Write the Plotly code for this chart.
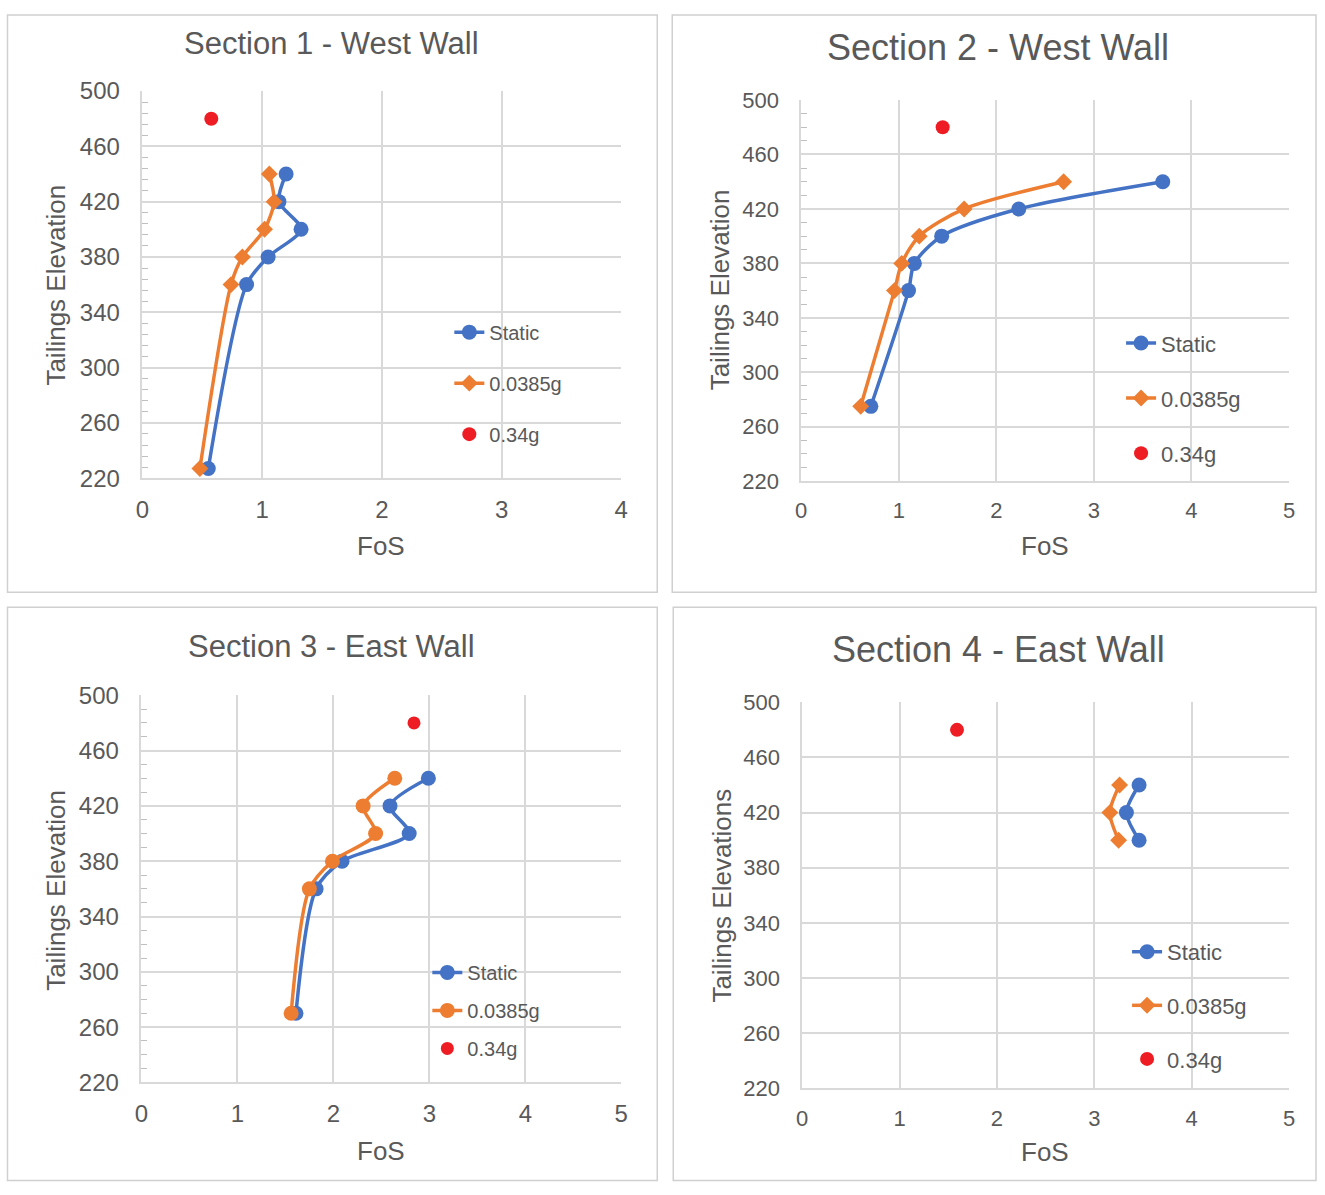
import plotly.graph_objects as go

W, H = 1325, 1195

# ---------------- data ----------------
s1_elev = [227, 360, 380, 400, 420, 440]
s1_static = [0.55, 0.87, 1.05, 1.325, 1.14, 1.20]
s1_dyn = [0.48, 0.74, 0.835, 1.02, 1.10, 1.06]
s1_eq_elev = [480]
s1_eq = [0.575]

s2_elev = [275, 360, 380, 400, 420, 440]
s2_static = [0.714, 1.10, 1.16, 1.44, 2.23, 3.706]
s2_dyn = [0.61, 0.956, 1.03, 1.21, 1.67, 2.69]
s2_eq_elev = [480]
s2_eq = [1.45]

s3_elev = [270, 360, 380, 400, 420, 440]
s3_static = [1.61, 1.82, 2.09, 2.79, 2.59, 2.99]
s3_dyn = [1.56, 1.75, 1.99, 2.44, 2.31, 2.64]
s3_eq_elev = [480]
s3_eq = [2.84]

s4_elev = [400, 420, 440]
s4_static = [3.46, 3.33, 3.46]
s4_dyn = [3.25, 3.16, 3.26]
s4_eq_elev = [480]
s4_eq = [1.59]

series_names = ["Static", "0.0385g", "0.34g"]
titles = ["Section 1 - West Wall", "Section 2 - West Wall",
          "Section 3 - East Wall", "Section 4 - East Wall"]
ytitles = ["Tailings Elevation", "Tailings Elevation",
           "Tailings Elevation", "Tailings Elevations"]
xtitle = "FoS"

BLUE = "#4472C4"
ORANGE = "#ED7D31"
RED = "#EE1D23"
GRID = "#D9D9D9"
TXT = "#595959"
FONT = "Liberation Sans, Arial, sans-serif"

# mapping from target picture pixels to paper fractions
RX0, RW = 6.5, 1311.5
RY0, RH = 14.0, 1167.5

def px(x):
    return min(max((x - RX0) / RW, 0.0), 1.0)

def py(y):
    return min(max(1 - (y - RY0) / RH, 0.0), 1.0)

# panel layout (pixel geometry in target picture)
panels = [
    dict(data=(s1_elev, s1_static, s1_dyn, s1_eq_elev, s1_eq), dyn_symbol="diamond",
         plot=(142, 621, 91, 478), xmax=4, box=(7, 657, 15, 592),
         title_xy=(331, 43), tfs=31, tickfs=24, afs=26, minor=8,
         ytitle_xy=(56, 285), xtitle_xy=(381, 546),
         legend_xy=(449, 383), lfs=20, lgap=22, msize=15, dsize=13, esize=14),
    dict(data=(s2_elev, s2_static, s2_dyn, s2_eq_elev, s2_eq), dyn_symbol="diamond",
         plot=(801, 1289, 100, 481), xmax=5, box=(672, 1316, 15, 592),
         title_xy=(998, 47), tfs=36, tickfs=22, afs=26, minor=10,
         ytitle_xy=(720, 290), xtitle_xy=(1045, 546),
         legend_xy=(1121, 398), lfs=22, lgap=23.5, msize=15, dsize=13, esize=14),
    dict(data=(s3_elev, s3_static, s3_dyn, s3_eq_elev, s3_eq), dyn_symbol="circle",
         plot=(141, 621, 695, 1082), xmax=5, box=(7, 657, 607, 1180),
         title_xy=(331, 646), tfs=31, tickfs=24, afs=26, minor=10,
         ytitle_xy=(56, 890), xtitle_xy=(381, 1151),
         legend_xy=(427, 1010), lfs=20, lgap=9, msize=15, dsize=15, esize=13),
    dict(data=(s4_elev, s4_static, s4_dyn, s4_eq_elev, s4_eq), dyn_symbol="diamond",
         plot=(802, 1289, 702, 1088), xmax=5, box=(673, 1316, 607, 1180),
         title_xy=(998, 649), tfs=36, tickfs=22, afs=26, minor=None,
         ytitle_xy=(722, 895), xtitle_xy=(1045, 1152),
         legend_xy=(1127, 1005), lfs=22, lgap=22, msize=15, dsize=13, esize=14),
]

fig = go.Figure()
shapes = []
annotations = []
layout_axes = {}

for i, p in enumerate(panels):
    n = i + 1
    xa = "x" if n == 1 else f"x{n}"
    ya = "y" if n == 1 else f"y{n}"
    xkey = "xaxis" if n == 1 else f"xaxis{n}"
    ykey = "yaxis" if n == 1 else f"yaxis{n}"
    lkey = "legend" if n == 1 else f"legend{n}"
    elev, stat, dyn, eq_elev, eq = p["data"]

    fig.add_trace(go.Scatter(
        x=stat, y=elev, name=series_names[0], mode="lines+markers",
        line=dict(color=BLUE, width=3.5, shape="spline", smoothing=0.8),
        marker=dict(color=BLUE, size=p["msize"], symbol="circle"),
        xaxis=xa, yaxis=ya, legend=lkey, legendgroup=f"a{n}"))
    fig.add_trace(go.Scatter(
        x=dyn, y=elev, name=series_names[1], mode="lines+markers",
        line=dict(color=ORANGE, width=3.5, shape="spline", smoothing=0.8),
        marker=dict(color=ORANGE, size=p["dsize"], symbol=p["dyn_symbol"]),
        xaxis=xa, yaxis=ya, legend=lkey, legendgroup=f"b{n}"))
    fig.add_trace(go.Scatter(
        x=eq, y=eq_elev, name=series_names[2], mode="markers",
        marker=dict(color=RED, size=p["esize"], symbol="circle"),
        xaxis=xa, yaxis=ya, legend=lkey, legendgroup=f"c{n}"))

    x0, x1, y0, y1 = p["plot"]
    yaxis = dict(
        domain=[py(y1), py(y0)], range=[220, 500], dtick=40, tick0=220,
        showgrid=True, gridcolor=GRID, gridwidth=1.5,
        showline=True, linecolor=GRID, linewidth=1.5,
        zeroline=False, ticks="", anchor=xa,
        tickfont=dict(size=p["tickfs"], color=TXT, family=FONT),
        ticklabelstandoff=16, fixedrange=True)
    if p["minor"]:
        yaxis["minor"] = dict(dtick=p["minor"], tick0=220, ticks="inside",
                              ticklen=6, tickcolor="#BFBFBF", tickwidth=1,
                              showgrid=False)
    xaxis = dict(
        domain=[px(x0), px(x1)], range=[0, p["xmax"]], dtick=1, tick0=0,
        showgrid=True, gridcolor=GRID, gridwidth=1.5,
        showline=True, linecolor=GRID, linewidth=1.5,
        zeroline=False, ticks="", anchor=ya,
        tickfont=dict(size=p["tickfs"], color=TXT, family=FONT),
        ticklabelstandoff=9, fixedrange=True)
    layout_axes[xkey] = xaxis
    layout_axes[ykey] = yaxis

    lx, ly = p["legend_xy"]
    layout_axes[lkey] = dict(
        x=px(lx), y=py(ly), xanchor="left", yanchor="middle",
        xref="paper", yref="paper",
        bgcolor="rgba(0,0,0,0)", borderwidth=0,
        font=dict(size=p["lfs"], color=TXT, family=FONT),
        tracegroupgap=p["lgap"], itemsizing="trace", traceorder="grouped")

    bx0, bx1, by0, by1 = p["box"]
    shapes.append(dict(type="rect", xref="paper", yref="paper",
                       x0=px(bx0), x1=px(bx1), y0=py(by1), y1=py(by0),
                       line=dict(color="#D0D0D0", width=1.5), layer="below"))

    tx, ty = p["title_xy"]
    annotations.append(dict(text=titles[i], x=px(tx), y=py(ty), xref="paper", yref="paper",
                            showarrow=False, xanchor="center", yanchor="middle",
                            font=dict(size=p["tfs"], color=TXT, family=FONT)))
    ax, ay = p["xtitle_xy"]
    annotations.append(dict(text=xtitle, x=px(ax), y=py(ay), xref="paper", yref="paper",
                            showarrow=False, xanchor="center", yanchor="middle",
                            font=dict(size=p["afs"], color=TXT, family=FONT)))
    yx, yy = p["ytitle_xy"]
    annotations.append(dict(text=ytitles[i], x=px(yx), y=py(yy), xref="paper", yref="paper",
                            showarrow=False, xanchor="center", yanchor="middle", textangle=-90,
                            font=dict(size=p["afs"], color=TXT, family=FONT)))

fig.update_layout(
    width=W, height=H,
    margin=dict(l=0, r=0, t=0, b=0),
    paper_bgcolor="white", plot_bgcolor="white",
    font=dict(family=FONT, color=TXT),
    showlegend=True,
    shapes=shapes, annotations=annotations,
    **layout_axes)

fig.write_html(
    "out.html",
    config={"displayModeBar": False},
    post_script="document.body.style.margin='0';document.body.style.overflow='hidden';"
                "document.documentElement.style.overflow='hidden';")
